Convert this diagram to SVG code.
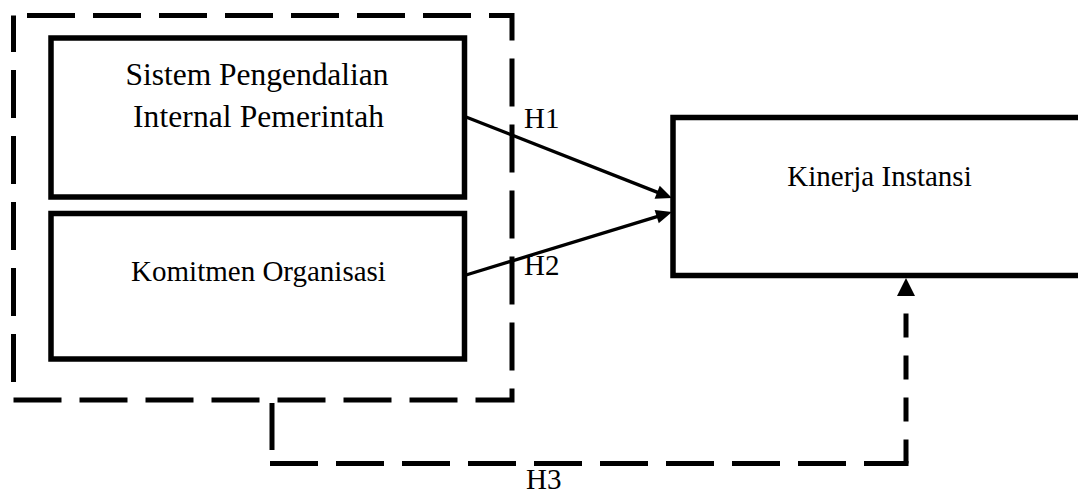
<svg xmlns="http://www.w3.org/2000/svg" width="1078" height="494" viewBox="0 0 1078 494">
  <style>
    .box { fill: #ffffff; stroke: #000000; stroke-width: 5.5; }
    .group { fill: none; stroke: #000000; stroke-width: 5; stroke-dasharray: 48 18; stroke-dashoffset: 52.5; }
    .lbl { font-family: "Liberation Serif", "Times New Roman", serif; font-size: 29px; fill: #000000; }
    .big { font-size: 31.5px; }
    .arrow { fill: none; stroke: #000000; stroke-width: 3.3; }
    .dash { fill: none; stroke: #000000; stroke-width: 5; }
  </style>
  <defs>
    <marker id="ah" markerUnits="userSpaceOnUse" markerWidth="16" markerHeight="14" refX="8" refY="7" orient="auto" overflow="visible">
      <path d="M0,0 L16,7 L0,14 z" fill="#000000"/>
    </marker>
  </defs>
  <rect width="1078" height="494" fill="#ffffff"/>

  <g id="group-x">
    <path class="group" d="M13.5,15.5 H512 V400 H13.5 Z"/>
  </g>

  <g id="node-spip">
    <rect class="box" x="51" y="38" width="413.5" height="159"/>
    <text class="lbl big" x="257" y="85" text-anchor="middle" textLength="263" lengthAdjust="spacing">Sistem Pengendalian</text>
    <text class="lbl big" x="258.5" y="127" text-anchor="middle" textLength="251" lengthAdjust="spacing">Internal Pemerintah</text>
  </g>

  <g id="node-komitmen">
    <rect class="box" x="51" y="213.5" width="413.5" height="145.5"/>
    <text class="lbl" x="258.5" y="281" text-anchor="middle">Komitmen Organisasi</text>
  </g>

  <g id="node-kinerja">
    <rect class="box" x="673" y="117.5" width="420" height="158"/>
    <text class="lbl" x="879.5" y="186" text-anchor="middle">Kinerja Instansi</text>
  </g>

  <g id="connectors">
    <line class="arrow" x1="466" y1="117" x2="664.6" y2="195.1" marker-end="url(#ah)"/>
    <line class="arrow" x1="466" y1="275" x2="664.35" y2="214.34" marker-end="url(#ah)"/>
    <path class="dash" d="M272,403 V464" stroke-dasharray="47 18"/>
    <path class="dash" d="M270,463.5 H908.5" stroke-dasharray="48 18"/>
    <path class="dash" d="M906,463.5 V296" stroke-dasharray="24 18"/>
    <polygon points="906,278 897,296 915,296" fill="#000000"/>
    <text class="lbl" x="524" y="128">H1</text>
    <text class="lbl" x="524" y="275">H2</text>
    <text class="lbl" x="526" y="489">H3</text>
  </g>
</svg>
